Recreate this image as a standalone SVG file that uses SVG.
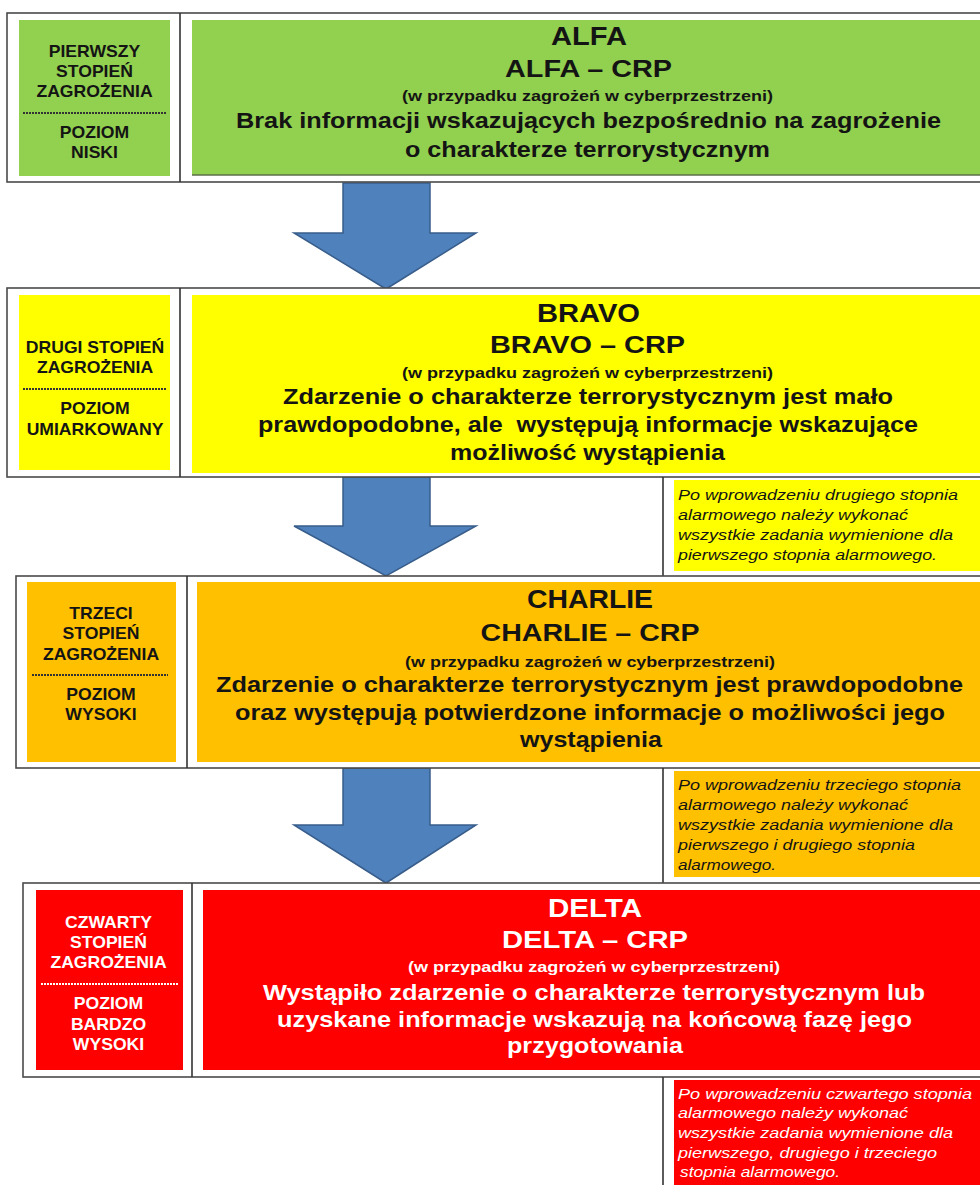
<svg xmlns="http://www.w3.org/2000/svg" width="980" height="1185" viewBox="0 0 980 1185">
<style>
.frame{fill:#fff;stroke:#4a4a4a;stroke-width:1.6}
.div{stroke:#333;stroke-width:1.6}
.sep{stroke:#333;stroke-width:2;stroke-dasharray:2 1}
.sepw{stroke:#fff;stroke-width:2;stroke-dasharray:2 1}
.g{fill:#92D050}.y{fill:#FFFF00}.o{fill:#FFC000}.r{fill:#FF0000}
.arrow{fill:#4F81BD;stroke:#385D8A;stroke-width:1.5}
text{font-family:"Liberation Sans",Arial,sans-serif;fill:#141414}
.lab{font-size:16px;font-weight:bold;text-anchor:middle}
.t1{font-size:25px;font-weight:bold;text-anchor:middle}
.t2{font-size:24px;font-weight:bold;text-anchor:middle}
.sub{font-size:14px;font-weight:bold;text-anchor:middle}
.body{font-size:22px;font-weight:bold;text-anchor:middle}
.note{font-size:14px;font-style:italic}
.w text,text.wt{fill:#fff}
</style>

<g id="connectors">
<path class="arrow" d="M343,183 H430 V233 H476 L386,289 L294,233 H343 Z"/>
<path class="arrow" d="M343,477 H430 V526 H476 L386,576 L294,526 H343 Z"/>
<path class="arrow" d="M343,768 H430 V825 H476 L386,883 L294,825 H343 Z"/>
</g>

<!-- ALFA -->
<g id="alfa">
<rect class="frame" x="7" y="13" width="980" height="169"/>
<line class="div" x1="180" y1="13" x2="180" y2="182"/>
<g id="alfa-level">
<rect class="g" x="19" y="20" width="151" height="156"/>
<g transform="translate(94.5 0) scale(1.1 1)">
<text class="lab" x="0" y="57">PIERWSZY</text>
<text class="lab" x="0" y="77">STOPIEŃ</text>
<text class="lab" x="0" y="97">ZAGROŻENIA</text>
<text class="lab" x="0" y="138">POZIOM</text>
<text class="lab" x="0" y="158">NISKI</text>
</g>
<line class="sep" x1="23" y1="113" x2="166" y2="113"/>
</g>
<g id="alfa-main">
<rect class="g" x="192" y="20" width="788" height="155"/>
<line x1="192" y1="175" x2="980" y2="175" stroke="#5b6e4a" stroke-width="1.5"/>
<text class="t1" x="589" y="45" textLength="76" lengthAdjust="spacingAndGlyphs">ALFA</text>
<text class="t2" x="588.5" y="77" textLength="167" lengthAdjust="spacingAndGlyphs">ALFA – CRP</text>
<text class="sub" x="587.5" y="101" textLength="371" lengthAdjust="spacingAndGlyphs">(w przypadku zagrożeń w cyberprzestrzeni)</text>
<text class="body" x="588.5" y="128" textLength="705" lengthAdjust="spacingAndGlyphs">Brak informacji wskazujących bezpośrednio na zagrożenie</text>
<text class="body" x="587.5" y="157" textLength="365" lengthAdjust="spacingAndGlyphs">o charakterze terrorystycznym</text>
</g>
</g>

<!-- BRAVO -->
<g id="bravo">
<rect class="frame" x="7" y="288" width="980" height="189"/>
<line class="div" x1="180" y1="288" x2="180" y2="477"/>
<g id="bravo-level">
<rect class="y" x="19" y="295" width="151" height="175"/>
<g transform="translate(95 0) scale(1.1 1)">
<text class="lab" x="0" y="353">DRUGI STOPIEŃ</text>
<text class="lab" x="0" y="373">ZAGROŻENIA</text>
<text class="lab" x="0" y="414">POZIOM</text>
<text class="lab" x="0" y="435">UMIARKOWANY</text>
</g>
<line class="sep" x1="23" y1="389" x2="166" y2="389"/>
</g>
<g id="bravo-main">
<rect class="y" x="192" y="295" width="788" height="178"/>
<text class="t1" x="588.5" y="322" textLength="103" lengthAdjust="spacingAndGlyphs">BRAVO</text>
<text class="t2" x="587.5" y="353" textLength="195" lengthAdjust="spacingAndGlyphs">BRAVO – CRP</text>
<text class="sub" x="587.5" y="378" textLength="371" lengthAdjust="spacingAndGlyphs">(w przypadku zagrożeń w cyberprzestrzeni)</text>
<text class="body" x="588" y="404" textLength="610" lengthAdjust="spacingAndGlyphs">Zdarzenie o charakterze terrorystycznym jest mało</text>
<text class="body" x="588" y="432" textLength="660" lengthAdjust="spacingAndGlyphs" style="white-space:pre">prawdopodobne, ale  występują informacje wskazujące</text>
<text class="body" x="587.5" y="460" textLength="275" lengthAdjust="spacingAndGlyphs">możliwość wystąpienia</text>
</g>
</g>
<g id="bravo-note">
<line class="div" x1="663" y1="477" x2="663" y2="576"/>
<rect class="y" x="674" y="480" width="306" height="91"/>
<text class="note" x="678" y="500" textLength="280" lengthAdjust="spacingAndGlyphs">Po wprowadzeniu drugiego stopnia</text>
<text class="note" x="678" y="520" textLength="230" lengthAdjust="spacingAndGlyphs">alarmowego należy wykonać</text>
<text class="note" x="678" y="540" textLength="275" lengthAdjust="spacingAndGlyphs">wszystkie zadania wymienione dla</text>
<text class="note" x="678" y="560" textLength="259" lengthAdjust="spacingAndGlyphs">pierwszego stopnia alarmowego.</text>
</g>

<!-- CHARLIE -->
<g id="charlie">
<rect class="frame" x="16" y="576" width="980" height="192"/>
<line class="div" x1="187" y1="576" x2="187" y2="768"/>
<g id="charlie-level">
<rect class="o" x="27" y="582" width="149" height="180"/>
<g transform="translate(101 0) scale(1.1 1)">
<text class="lab" x="0" y="619">TRZECI</text>
<text class="lab" x="0" y="639">STOPIEŃ</text>
<text class="lab" x="0" y="660">ZAGROŻENIA</text>
<text class="lab" x="0" y="700">POZIOM</text>
<text class="lab" x="0" y="720">WYSOKI</text>
</g>
<line class="sep" x1="32" y1="675" x2="168" y2="675"/>
</g>
<g id="charlie-main">
<rect class="o" x="197" y="582" width="783" height="180"/>
<text class="t1" x="590" y="608" textLength="126" lengthAdjust="spacingAndGlyphs">CHARLIE</text>
<text class="t2" x="590" y="641" textLength="219" lengthAdjust="spacingAndGlyphs">CHARLIE – CRP</text>
<text class="sub" x="590" y="667" textLength="370" lengthAdjust="spacingAndGlyphs">(w przypadku zagrożeń w cyberprzestrzeni)</text>
<text class="body" x="589.5" y="692" textLength="747" lengthAdjust="spacingAndGlyphs">Zdarzenie o charakterze terrorystycznym jest prawdopodobne</text>
<text class="body" x="590" y="720" textLength="710" lengthAdjust="spacingAndGlyphs">oraz występują potwierdzone informacje o możliwości jego</text>
<text class="body" x="591" y="747" textLength="142" lengthAdjust="spacingAndGlyphs">wystąpienia</text>
</g>
</g>
<g id="charlie-note">
<line class="div" x1="663" y1="768" x2="663" y2="883"/>
<rect class="o" x="674" y="771" width="306" height="106"/>
<text class="note" x="678" y="790" textLength="283" lengthAdjust="spacingAndGlyphs">Po wprowadzeniu trzeciego stopnia</text>
<text class="note" x="678" y="810" textLength="230" lengthAdjust="spacingAndGlyphs">alarmowego należy wykonać</text>
<text class="note" x="678" y="830" textLength="275" lengthAdjust="spacingAndGlyphs">wszystkie zadania wymienione dla</text>
<text class="note" x="678" y="850" textLength="237" lengthAdjust="spacingAndGlyphs">pierwszego i drugiego stopnia</text>
<text class="note" x="678" y="870" textLength="98" lengthAdjust="spacingAndGlyphs">alarmowego.</text>
</g>

<!-- DELTA -->
<g id="delta">
<rect class="frame" x="23" y="883" width="980" height="194"/>
<line class="div" x1="192" y1="883" x2="192" y2="1077"/>
<g id="delta-level" class="w">
<rect class="r" x="36" y="890" width="147" height="180"/>
<g transform="translate(108.5 0) scale(1.1 1)">
<text class="lab" x="0" y="928">CZWARTY</text>
<text class="lab" x="0" y="948">STOPIEŃ</text>
<text class="lab" x="0" y="968">ZAGROŻENIA</text>
<text class="lab" x="0" y="1009">POZIOM</text>
<text class="lab" x="0" y="1030">BARDZO</text>
<text class="lab" x="0" y="1050">WYSOKI</text>
</g>
<line class="sepw" x1="41" y1="984" x2="178" y2="984"/>
</g>
<g id="delta-main" class="w">
<rect class="r" x="203" y="890" width="777" height="180"/>
<text class="t1" x="595" y="917" textLength="94" lengthAdjust="spacingAndGlyphs">DELTA</text>
<text class="t2" x="595" y="948" textLength="186" lengthAdjust="spacingAndGlyphs">DELTA – CRP</text>
<text class="sub" x="594" y="972" textLength="372" lengthAdjust="spacingAndGlyphs">(w przypadku zagrożeń w cyberprzestrzeni)</text>
<text class="body" x="594" y="1000" textLength="662" lengthAdjust="spacingAndGlyphs">Wystąpiło zdarzenie o charakterze terrorystycznym lub</text>
<text class="body" x="594.5" y="1027" textLength="635" lengthAdjust="spacingAndGlyphs">uzyskane informacje wskazują na końcową fazę jego</text>
<text class="body" x="595" y="1053" textLength="176" lengthAdjust="spacingAndGlyphs">przygotowania</text>
</g>
</g>
<g id="delta-note" class="w">
<line class="div" x1="663" y1="1077" x2="663" y2="1185"/>
<rect class="r" x="674" y="1080" width="306" height="105"/>
<text class="note" x="678" y="1099" textLength="294" lengthAdjust="spacingAndGlyphs">Po wprowadzeniu czwartego stopnia</text>
<text class="note" x="678" y="1118" textLength="230" lengthAdjust="spacingAndGlyphs">alarmowego należy wykonać</text>
<text class="note" x="678" y="1138" textLength="275" lengthAdjust="spacingAndGlyphs">wszystkie zadania wymienione dla</text>
<text class="note" x="678" y="1158" textLength="259" lengthAdjust="spacingAndGlyphs">pierwszego, drugiego i trzeciego</text>
<text class="note" x="680" y="1177" textLength="160" lengthAdjust="spacingAndGlyphs">stopnia alarmowego.</text>
</g>
</svg>
